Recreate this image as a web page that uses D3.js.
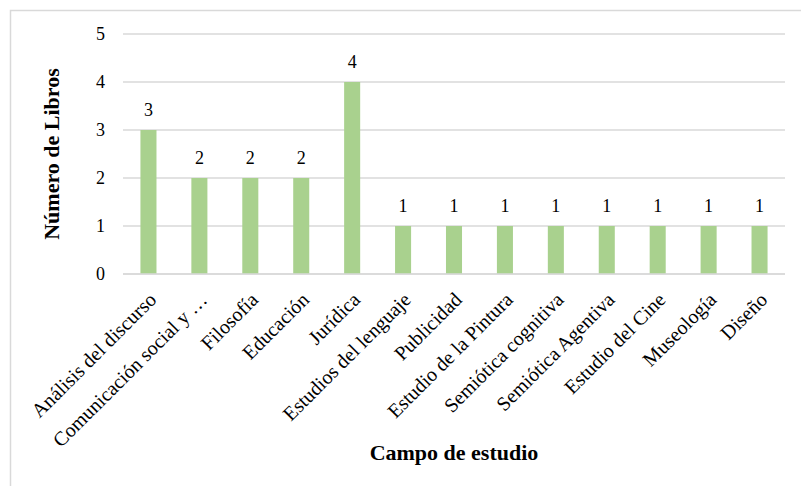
<!DOCTYPE html>
<html>
<head>
<meta charset="utf-8">
<script src="https://cdn.jsdelivr.net/npm/d3@7"></script>
<style>
    body { margin: 0; background: #fff; }
    text { font-family: "Liberation Serif", "Times New Roman", serif; fill: #000; }
</style>
</head>
<body>
<div id="chart"></div>
<script>
// Data
var campos = ["Análisis del discurso", "Comunicación social y …", "Filosofía", "Educación",
    "Jurídica", "Estudios del lenguaje", "Publicidad", "Estudio de la Pintura",
    "Semiótica cognitiva", "Semiótica Agentiva", "Estudio del Cine", "Museología", "Diseño"];
var libros = [3, 2, 2, 2, 4, 1, 1, 1, 1, 1, 1, 1, 1];
var yTicks = [0, 1, 2, 3, 4, 5];

var svgWidth = 801;
var svgHeight = 486;

var margin = {
    top: 34,
    right: 16,
    bottom: 212,
    left: 123
};

var width = svgWidth - margin.left - margin.right;
var height = svgHeight - margin.top - margin.bottom;

var svg = d3.select("#chart")
    .append("svg")
    .attr("width", svgWidth)
    .attr("height", svgHeight);

// chart border (left + top only visible in the crop)
svg.append("rect")
    .attr("x", 10.5)
    .attr("y", 10.5)
    .attr("width", svgWidth + 20)
    .attr("height", svgHeight + 20)
    .attr("fill", "none")
    .attr("stroke", "#d9d9d9")
    .attr("stroke-width", 1.5);

var chartGroup = svg.append("g")
    .attr("transform", `translate(${margin.left}, ${margin.top})`);

// Scales
var xBandScale = d3.scaleBand()
    .domain(campos)
    .range([0, width])
    .paddingInner(0.685)
    .paddingOuter(0.3425);

var yLinearScale = d3.scaleLinear()
    .domain([0, 5])
    .range([height, 0]);

// Gridlines
chartGroup.selectAll(".grid")
    .data(yTicks)
    .enter()
    .append("line")
    .attr("class", "grid")
    .attr("x1", 0)
    .attr("x2", width)
    .attr("y1", d => yLinearScale(d))
    .attr("y2", d => yLinearScale(d))
    .attr("stroke", "#d9d9d9")
    .attr("stroke-width", 1.5);

// Y axis (labels only)
var leftAxis = d3.axisLeft(yLinearScale)
    .tickValues(yTicks)
    .tickSize(0)
    .tickPadding(18)
    .tickFormat(d3.format("d"));

var yAxisG = chartGroup.append("g").call(leftAxis);
yAxisG.select(".domain").remove();
yAxisG.selectAll("text")
    .style("font-family", "Liberation Serif")
    .style("font-size", "18px");

// Bars
chartGroup.selectAll(".bar")
    .data(libros)
    .enter()
    .append("rect")
    .attr("class", "bar")
    .attr("x", (d, i) => xBandScale(campos[i]))
    .attr("y", d => yLinearScale(d))
    .attr("width", xBandScale.bandwidth())
    .attr("height", d => height - yLinearScale(d))
    .attr("fill", "#a9d18e");

// Data labels
chartGroup.selectAll(".val")
    .data(libros)
    .enter()
    .append("text")
    .attr("class", "val")
    .attr("x", (d, i) => xBandScale(campos[i]) + xBandScale.bandwidth() / 2)
    .attr("y", d => yLinearScale(d) - 14)
    .attr("text-anchor", "middle")
    .style("font-size", "18px")
    .text(d => d);

// baseline redrawn over bars
chartGroup.append("line")
    .attr("x1", 0)
    .attr("x2", width)
    .attr("y1", height)
    .attr("y2", height)
    .attr("stroke", "#d9d9d9")
    .attr("stroke-width", 1.5);

// X axis category labels, rotated -45
var bottomAxis = d3.axisBottom(xBandScale).tickSize(0);
var xAxisG = chartGroup.append("g")
    .attr("transform", `translate(0, ${height})`)
    .call(bottomAxis);
xAxisG.select(".domain").remove();
xAxisG.selectAll("text")
    .attr("y", 0)
    .attr("dy", 0)
    .attr("text-anchor", "end")
    .attr("transform", "translate(9, 27) rotate(-45)")
    .style("font-family", "Liberation Serif")
    .style("font-size", "20px");

// Axis titles
chartGroup.append("text")
    .attr("transform", `translate(${59 - margin.left}, ${height / 2}) rotate(-90)`)
    .attr("text-anchor", "middle")
    .style("font-size", "22px")
    .style("font-weight", "bold")
    .text("Número de Libros");

chartGroup.append("text")
    .attr("x", width / 2)
    .attr("y", 460 - margin.top)
    .attr("text-anchor", "middle")
    .style("font-size", "22px")
    .style("font-weight", "bold")
    .text("Campo de estudio");
</script>
</body>
</html>
